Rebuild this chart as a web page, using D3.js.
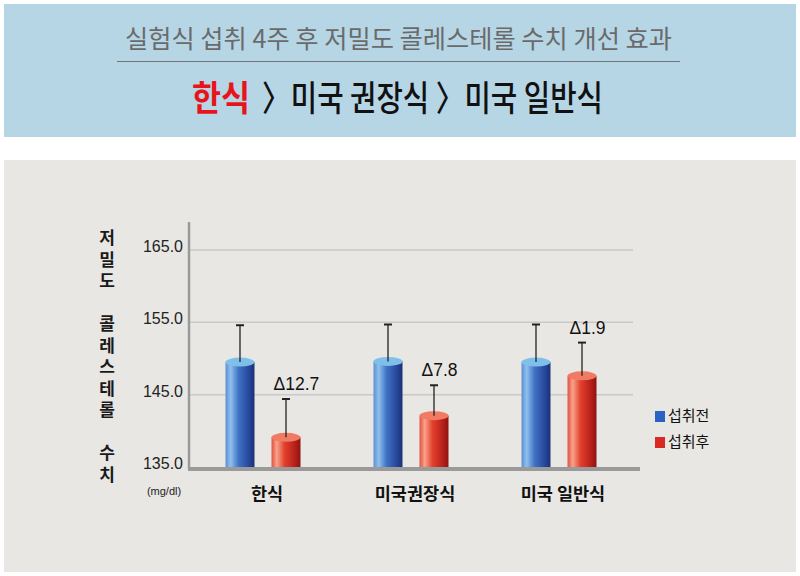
<!DOCTYPE html>
<html><head><meta charset="utf-8">
<script src="https://cdnjs.cloudflare.com/ajax/libs/d3/7.8.5/d3.min.js"></script>
<style>body{margin:0;background:#fff;} svg{display:block;}</style>
</head><body>
<script>
const categories = ["한식", "미국권장식", "미국 일반식"];
const series = ["섭취전", "섭취후"];
const before = [149.5, 149.6, 149.5];
const after = [139.1, 142.1, 147.6];
const beforeErr = [5.1, 5.1, 5.2];
const afterErr = [5.3, 4.2, 4.6];
const deltaLabels = ["Δ12.7", "Δ7.8", "Δ1.9"];
const yTicks = [135, 145, 155, 165];
const yTitle = "저밀도\u3000콜레스테롤\u3000수치";

const W = 800, H = 576;
const font = "'Noto Sans CJK KR','Noto Sans',sans-serif";
const arial = "'Liberation Sans',Arial,sans-serif";
const svg = d3.select("body").append("svg").attr("width", W).attr("height", H);
const defs = svg.append("defs");

function grad(id, stops) {
  const g = defs.append("linearGradient").attr("id", id).attr("x1", "0").attr("x2", "1").attr("y1", "0").attr("y2", "0");
  stops.forEach(s => g.append("stop").attr("offset", s[0]).attr("stop-color", s[1]));
}
grad("gBlue", [[0, "#5d8fd0"], [0.18, "#8fc1ee"], [0.45, "#3f72c4"], [0.8, "#27489c"], [1, "#1d2f78"]]);
grad("gRed", [[0, "#e0523c"], [0.18, "#f7a28c"], [0.45, "#e2402c"], [0.8, "#b8201a"], [1, "#8c1410"]]);

// Header
svg.append("rect").attr("x", 4).attr("y", 4).attr("width", 792).attr("height", 133).attr("fill", "#b6d6e6");
svg.append("text").attr("x", 125).attr("y", 48).attr("text-anchor", "start")
  .attr("font-family", font).attr("font-size", 25).attr("fill", "#6a6a6a")
  .attr("textLength", 547).attr("lengthAdjust", "spacingAndGlyphs")
  .text("실험식 섭취 4주 후 저밀도 콜레스테롤 수치 개선 효과");
svg.append("line").attr("x1", 117).attr("x2", 680).attr("y1", 61.5).attr("y2", 61.5).attr("stroke", "#6f7478").attr("stroke-width", 1.2);
svg.append("text").attr("x", 192).attr("y", 111).attr("text-anchor", "start")
  .attr("font-family", font).attr("font-size", 35).attr("font-weight", "bold").attr("fill", "#e8141c")
  .attr("textLength", 58).attr("lengthAdjust", "spacingAndGlyphs").text("한식");
svg.append("text").attr("x", 262).attr("y", 111).attr("text-anchor", "start")
  .attr("font-family", font).attr("font-size", 35).attr("font-weight", 500).attr("fill", "#111")
  .attr("textLength", 341).attr("lengthAdjust", "spacingAndGlyphs").text("〉미국 권장식 〉미국 일반식");

// Chart panel
svg.append("rect").attr("x", 4).attr("y", 160).attr("width", 792).attr("height", 412).attr("fill", "#e9e7e4");

const y = d3.scaleLinear().domain([135, 165]).range([467, 250]);
const x0 = d3.scaleBand().domain(categories).range([189, 633]).padding(0);
const x1 = d3.scaleBand().domain(series).range([x0.bandwidth() / 2 - 37.5, x0.bandwidth() / 2 + 37.5]).paddingInner(0.37).paddingOuter(0);

// gridlines
svg.append("g").selectAll("line").data(yTicks.slice(1)).join("line")
  .attr("x1", 189).attr("x2", 633).attr("y1", d => y(d)).attr("y2", d => y(d))
  .attr("stroke", "#c9c9c9").attr("stroke-width", 1.5);

// y axis
const yAxis = svg.append("g").attr("transform", "translate(189,0)")
  .call(d3.axisLeft(y).tickValues(yTicks).tickFormat(d3.format(".1f")).tickSize(0).tickPadding(6));
yAxis.select(".domain").remove();
yAxis.selectAll("text").attr("font-family", arial).attr("font-size", 16).attr("fill", "#222").attr("dy", "0.1em");
svg.append("line").attr("x1", 189).attr("x2", 189).attr("y1", 222).attr("y2", 469).attr("stroke", "#9a9a9a").attr("stroke-width", 2.5);

// y title (vertical)
svg.append("text").attr("x", 107).attr("y", 229.5)
  .style("writing-mode", "vertical-rl").style("text-orientation", "upright")
  .attr("font-family", font).attr("font-weight", "bold").attr("font-size", 17)
  .attr("letter-spacing", 4.5).attr("fill", "#1a1a1a").text(yTitle);
svg.append("text").attr("x", 164).attr("y", 495).attr("text-anchor", "middle")
  .attr("font-family", arial).attr("font-size", 11).attr("fill", "#222").text("(mg/dl)");

// bars
const rows = categories.map((c, i) => ({ c, i }));
const bw = x1.bandwidth();
const ry = 4.5;
function drawBars(vals, errs, key, fillId, topColor) {
  const g = svg.append("g");
  rows.forEach(r => {
    const cx = x0(r.c) + x1(key) + bw / 2;
    const top = y(vals[r.i]);
    const base = y(135);
    g.append("rect").attr("x", cx - bw / 2).attr("y", top).attr("width", bw).attr("height", base - top).attr("fill", `url(#${fillId})`);
    g.append("ellipse").attr("cx", cx).attr("cy", top).attr("rx", bw / 2).attr("ry", ry).attr("fill", topColor);
    const et = y(vals[r.i] + errs[r.i]);
    g.append("line").attr("x1", cx).attr("x2", cx).attr("y1", top).attr("y2", et).attr("stroke", "#222").attr("stroke-width", 1.3);
    g.append("line").attr("x1", cx - 4).attr("x2", cx + 4).attr("y1", et).attr("y2", et).attr("stroke", "#222").attr("stroke-width", 2);
  });
}
drawBars(before, beforeErr, "섭취전", "gBlue", "#7fc0ea");
drawBars(after, afterErr, "섭취후", "gRed", "#f07a62");

// delta labels
svg.append("g").selectAll("text").data(rows).join("text")
  .attr("x", d => x0(d.c) + x1("섭취후") + 2)
  .attr("y", d => y(after[d.i] + afterErr[d.i]) - 9)
  .attr("text-anchor", "start").attr("font-family", arial).attr("font-size", 17.5).attr("fill", "#111")
  .text(d => deltaLabels[d.i]);

// baseline
svg.append("line").attr("x1", 188).attr("x2", 640).attr("y1", 469).attr("y2", 469).attr("stroke", "#9a9a9a").attr("stroke-width", 4);

// category labels
svg.append("g").selectAll("text").data(categories).join("text")
  .attr("x", d => x0(d) + x0.bandwidth() / 2 + 4).attr("y", 500).attr("text-anchor", "middle")
  .attr("font-family", font).attr("font-weight", "bold").attr("font-size", 17.5).attr("fill", "#111").text(d => d);

// legend
const legColors = ["#2a63c4", "#d82a22"];
const leg = svg.append("g").selectAll("g").data(series).join("g").attr("transform", (d, i) => `translate(655,${411 + i * 26})`);
leg.append("rect").attr("width", 10).attr("height", 11).attr("fill", (d, i) => legColors[i]);
leg.append("text").attr("x", 13).attr("y", 10).attr("font-family", font).attr("font-size", 15).attr("fill", "#111").text(d => d);
</script>
</body></html>
